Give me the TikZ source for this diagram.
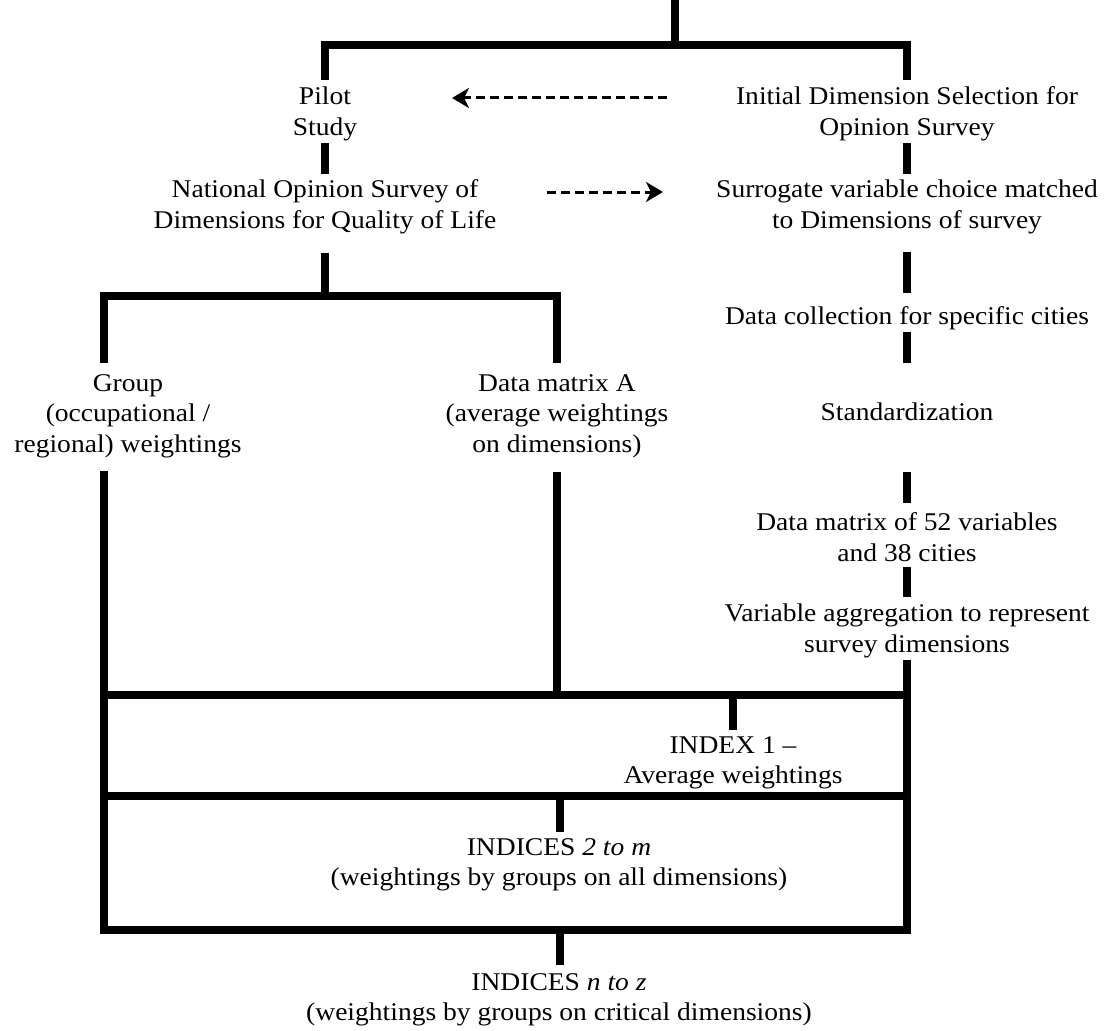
\documentclass[tikz,border=0pt]{standalone}
\usepackage{fontspec}
\setmainfont{Liberation Serif}[FakeStretch=1.08]
\usetikzlibrary{arrows.meta}
\begin{document}
\begin{tikzpicture}[x=1pt,y=-1pt,
  lbl/.style={align=center, font=\fontsize{25.5}{30.5}\selectfont, inner sep=0pt},
  bar/.style={line width=8pt, line join=miter},
  dasharrow/.style={line width=3pt, dash pattern=on 9pt off 5pt, -{Stealth[length=17pt,width=20pt,inset=5pt]}}]
\useasboundingbox (0,0) rectangle (1110,1030);
% text nodes
\node[lbl] (pilot) at (325,114) {Pilot\\Study};
\node[lbl] (init) at (907,114) {Initial Dimension Selection for\\Opinion Survey};
\node[lbl] (natl) at (325,207) {National Opinion Survey of\\Dimensions for Quality of Life};
\node[lbl] (surr) at (907,207) {Surrogate variable choice matched\\to Dimensions of survey};
\node[lbl] (coll) at (907,318) {Data collection for specific cities};
\node[lbl] (group) at (128,416) {Group\\(occupational /\\regional) weightings};
\node[lbl] (matA) at (557,416) {Data matrix A\\(average weightings\\on dimensions)};
\node[lbl] (std) at (907,412) {Standardization};
\node[lbl] (dm52) at (907,537) {Data matrix of 52 variables\\and 38 cities};
\node[lbl] (agg) at (907,631) {Variable aggregation to represent\\survey dimensions};
\node[lbl] (idx1) at (733,763) {INDEX 1 --\\Average weightings};
\node[lbl] (idx2) at (559,865) {INDICES \textit{2 to m}\\(weightings by groups on all dimensions)};
\node[lbl] (idxn) at (559,1000) {INDICES \textit{n to z}\\(weightings by groups on critical dimensions)};
% coordinates
\coordinate (top) at (675,0);
\coordinate (tj) at (675,45);
\coordinate (pa) at (325,80);
\coordinate (ia) at (907,80);
\coordinate (pb1) at (325,143); \coordinate (pb2) at (325,174);
\coordinate (ib1) at (907,143); \coordinate (ib2) at (907,174);
\coordinate (n1) at (325,253); \coordinate (n2) at (325,296);
\coordinate (g1) at (104,363); \coordinate (m1) at (557,363);
\coordinate (s1) at (907,252); \coordinate (s2) at (907,293);
\coordinate (c1) at (907,332); \coordinate (c2) at (907,363);
\coordinate (st1) at (907,472); \coordinate (st2) at (907,503);
\coordinate (d1) at (907,567); \coordinate (d2) at (907,597);
\coordinate (a1) at (907,660);
\coordinate (g2) at (104,471); \coordinate (m2) at (557,472); \coordinate (m3) at (557,695);
\coordinate (h1l) at (104,695); \coordinate (h1r) at (907,695);
\coordinate (i1a) at (733,695); \coordinate (i1b) at (733,730);
\coordinate (h2l) at (104,796); \coordinate (h2r) at (907,796);
\coordinate (i2a) at (560,796); \coordinate (i2b) at (560,832);
\coordinate (bl) at (104,930); \coordinate (br) at (907,930);
\coordinate (i3a) at (560,930); \coordinate (i3b) at (560,965);
\coordinate (al1) at (667,98); \coordinate (al2) at (452,98);
\coordinate (ar1) at (547,192); \coordinate (ar2) at (663,192);
% connectors
\draw[bar] (top) -- (tj);
\draw[bar] (pa) -- (325,45) -- (907,45) -- (ia);
\draw[bar] (pb1) -- (pb2);
\draw[bar] (ib1) -- (ib2);
\draw[bar] (n1) -- (n2);
\draw[bar] (g1) -- (104,296) -- (557,296) -- (m1);
\draw[bar] (s1) -- (s2);
\draw[bar] (c1) -- (c2);
\draw[bar] (st1) -- (st2);
\draw[bar] (d1) -- (d2);
\draw[bar] (m2) -- (m3);
\draw[bar] (h1l) -- (h1r);
\draw[bar] (i1a) -- (i1b);
\draw[bar] (h2l) -- (h2r);
\draw[bar] (i2a) -- (i2b);
\draw[bar] (g2) -- (bl) -- (br) -- (a1);
\draw[bar] (i3a) -- (i3b);
\draw[dasharrow] (al1) -- (al2);
\draw[dasharrow] (ar1) -- (ar2);
\end{tikzpicture}
\end{document}
